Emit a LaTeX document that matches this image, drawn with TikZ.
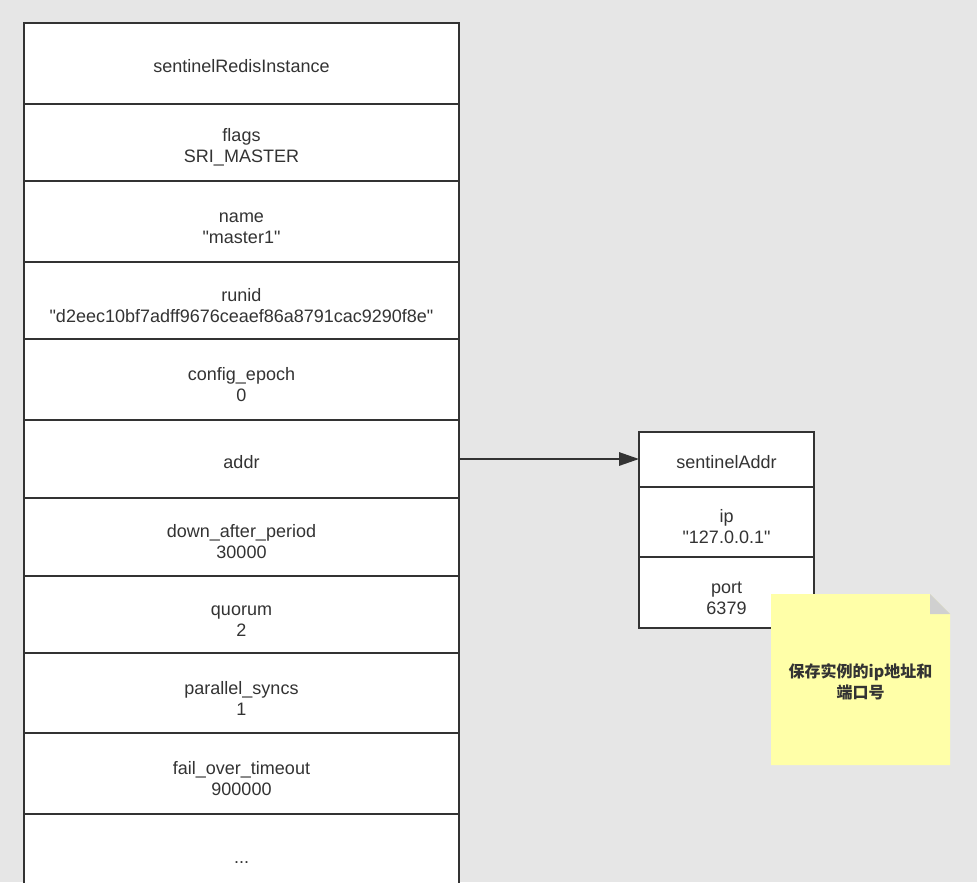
\documentclass[tikz,border=0pt]{standalone}
\usepackage{fontspec}
\setmainfont{Liberation Sans}
\newfontfamily\cjk{Noto Sans CJK SC}
\usetikzlibrary{arrows.meta, positioning}
\definecolor{bgcol}{HTML}{E6E6E6}
\definecolor{linecol}{HTML}{333333}
\definecolor{txtcol}{HTML}{333333}
\definecolor{notecol}{HTML}{FFFFA8}
\definecolor{foldcol}{HTML}{D0D0D0}
\newcommand{\qstr}[1]{\textquotedbl#1\textquotedbl}
\tikzset{
	field/.style={draw=linecol, line width=1.5pt, fill=white, text=txtcol,
		align=center, inner sep=0pt, outer sep=0pt,
		font=\fontsize{13.5}{15.75}\selectfont},
	oneline/.style={execute at begin node={\rule{0pt}{14pt}}},
	twoline/.style={execute at begin node={\rule{0pt}{33pt}}},
	bigfield/.style={field, minimum width=326.25pt},
	addrfield/.style={field, minimum width=131.25pt}
}

\begin{document}
\begin{tikzpicture}[x=0.75pt, y=-0.75pt]
	\fill[bgcol] (0,0) rectangle (977,882);
	\useasboundingbox (0,0) rectangle (977,882);
	\clip (0,0) rectangle (977,882);
	\node[bigfield, oneline, minimum height=60.75pt] (head) at (241.5,63.5) {sentinelRedisInstance};
	\node[bigfield, twoline, minimum height=57.75pt, below=0pt of head] (flags) {flags\\SRI\_MASTER};
	\node[bigfield, twoline, minimum height=60.75pt, below=0pt of flags] (name) {name\\\qstr{master1}};
	\node[bigfield, twoline, minimum height=57.75pt, below=0pt of name] (runid) {runid\\\qstr{d2eec10bf7adff9676ceaef86a8791cac9290f8e}};
	\node[bigfield, twoline, minimum height=60.75pt, below=0pt of runid] (epoch) {config\_epoch\\0};
	\node[bigfield, oneline, minimum height=58.5pt, below=0pt of epoch] (addr) {addr};
	\node[bigfield, twoline, minimum height=58.5pt, below=0pt of addr] (down) {down\_after\_period\\30000};
	\node[bigfield, twoline, minimum height=57.75pt, below=0pt of down] (quorum) {quorum\\2};
	\node[bigfield, twoline, minimum height=60pt, below=0pt of quorum] (syncs) {parallel\_syncs\\1};
	\node[bigfield, twoline, minimum height=60.75pt, below=0pt of syncs] (timeout) {fail\_over\_timeout\\900000};
	\node[bigfield, oneline, minimum height=60.75pt, below=0pt of timeout] (more) {...};

	\node[addrfield, oneline, minimum height=41.25pt] (sahead) at (726.5,459.5) {sentinelAddr};
	\node[addrfield, twoline, minimum height=52.5pt, below=0pt of sahead] (saip) {ip\\\qstr{127.0.0.1}};
	\node[addrfield, twoline, minimum height=53.25pt, below=0pt of saip] (saport) {port\\6379};

	\draw[linecol, line width=1.5pt, -{Triangle[length=15pt, width=10pt]}] (addr.east) -- (addr.east -| sahead.west);

	\fill[notecol] (771,594) -- (930,594) -- (950,614) -- (950,765) -- (771,765) -- cycle;
	\fill[foldcol] (930,594) -- (930,614) -- (950,614) -- cycle;
	\node[text=txtcol, align=center, font=\cjk\bfseries\fontsize{12}{15.75}\selectfont] (note) at (860.5,682) {保存实例的ip地址和\\端口号};
\end{tikzpicture}
\end{document}
